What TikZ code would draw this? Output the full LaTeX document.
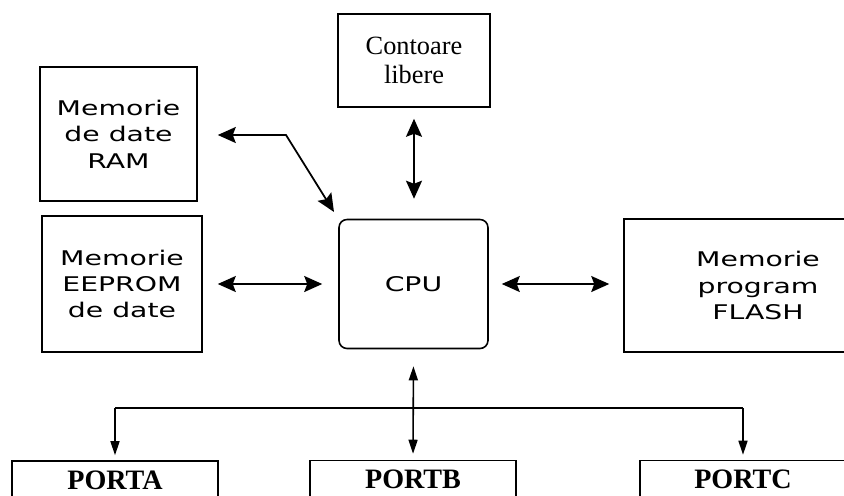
\documentclass[tikz,border=0pt]{standalone}
\usepackage{fontspec}
\setmainfont{Liberation Serif}
\newfontfamily\squarefont[FakeStretch=1.4]{DejaVu Sans}
\usetikzlibrary{arrows.meta}

\begin{document}
\begin{tikzpicture}[x=0.02cm, y=-0.02cm,
    block/.style={draw, line width=0.9pt, align=center, inner sep=0pt, font={\squarefont\fontsize{11.5}{15}\selectfont}},
    port/.style={draw, line width=0.9pt, minimum width=4.12cm, minimum height=0.76cm, font={\bfseries\fontsize{16}{18}\selectfont}},
    link/.style={{Stealth[length=3.6mm,width=3.2mm,inset=0.6mm]}-{Stealth[length=3.6mm,width=3.2mm,inset=0.6mm]}, line width=1pt},
    busarrow/.style={-{Triangle[length=2.8mm,width=1.8mm]}, line width=0.9pt},
    busboth/.style={{Triangle[length=2.8mm,width=1.8mm]}-{Triangle[length=2.8mm,width=1.8mm]}, line width=0.9pt}
]
    \useasboundingbox (0,0) rectangle (844,495);
    \clip (0,0) rectangle (844,495);

    % Memory blocks and CPU
    \node[block, minimum width=3.14cm, minimum height=2.68cm] (ram) at (118.5,134) {Memorie\\de date\\RAM};
    \node[block, minimum width=3.2cm, minimum height=2.72cm] (eeprom) at (122,284) {Memorie\\EEPROM\\de date};
    \node[block, rounded corners=0.16cm, minimum width=2.98cm, minimum height=2.58cm] (cpu) at (413.5,284) {CPU};
    \node[draw, line width=0.9pt, align=center, minimum width=3.04cm, minimum height=1.86cm, font={\fontsize{15}{16.5}\selectfont}] (contoare) at (414,60.5) {Contoare\\libere};
    \node[block, minimum width=5.36cm, minimum height=2.66cm] (flash) at (758,285.5) {Memorie\\program\\FLASH};

    % Ports
    \node[port] (porta) at (115,480) {PORTA};
    \node[port] (portb) at (413,479.5) {PORTB};
    \node[port] (portc) at (743,479.5) {PORTC};

    % Connections to the CPU
    \coordinate (ramknee) at (286,135);
    \draw[link, shorten <=0.4cm, shorten >=0.16cm] (ram.east |- ramknee) -- (ramknee) -- (cpu.north west);
    \draw[link, shorten <=0.3cm, shorten >=0.32cm] (eeprom.east) -- (eeprom.east -| cpu.west);
    \draw[link, shorten <=0.26cm, shorten >=0.28cm] (cpu.east) -- (cpu.east -| flash.west);
    \draw[link, shorten <=0.22cm, shorten >=0.4cm] (contoare.south) -- (contoare.south |- cpu.north);

    % Port bus
    \coordinate (busleft) at (115,408);
    \coordinate (busright) at (743,408);
    \draw[line width=0.9pt] (busleft) -- (busright);
    \draw[busboth, shorten <=0.34cm, shorten >=0.12cm] (cpu.south) -- (portb.north);
    \draw[busarrow, shorten >=0.1cm] (busleft) -- (porta.north);
    \draw[busarrow, shorten >=0.1cm] (busright) -- (portc.north);
\end{tikzpicture}
\end{document}
